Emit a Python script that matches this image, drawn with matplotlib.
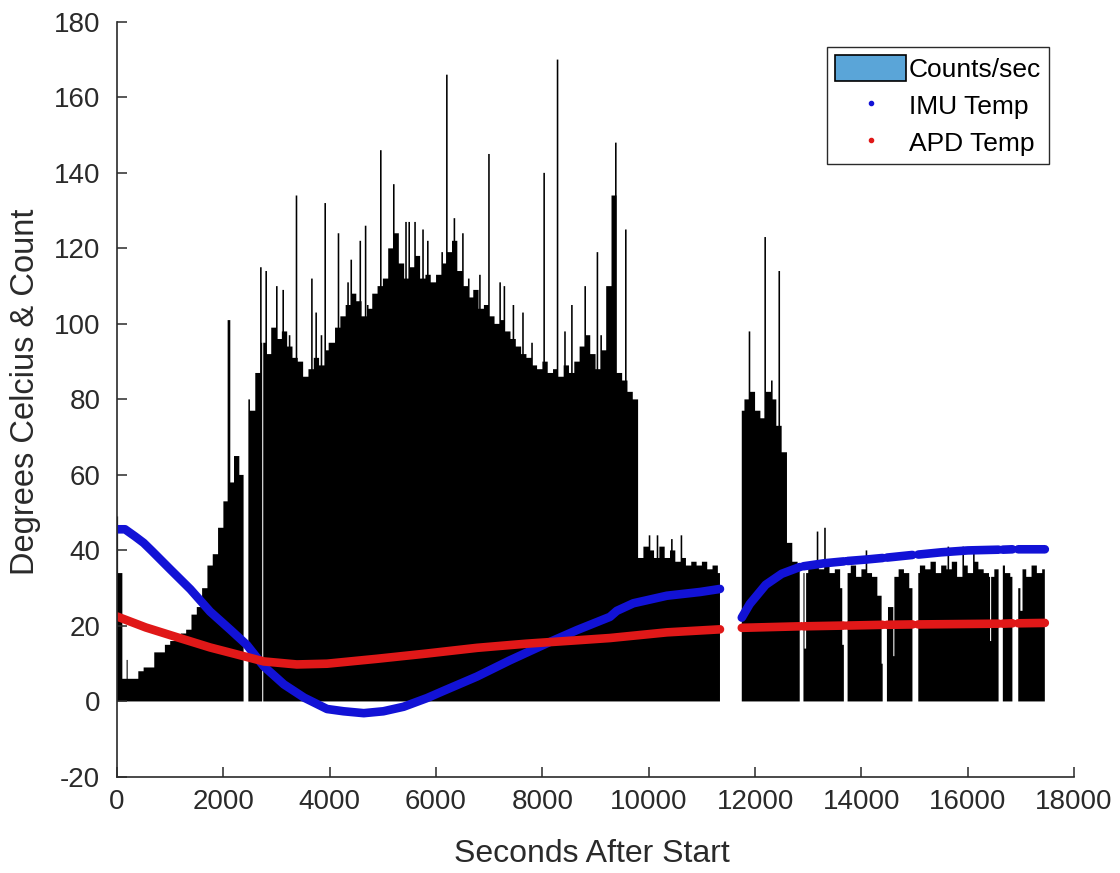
import numpy as np
import matplotlib
matplotlib.use("Agg")
import matplotlib.pyplot as plt
from matplotlib.patches import Patch
from matplotlib.lines import Line2D

plt.rcParams["axes.unicode_minus"] = False
plt.rcParams["font.family"] = ["Liberation Sans", "DejaVu Sans"]

# Counts per second in 100 s bins (bin i starts at 100*i s)
bin_width = 100
t_end = 17450
count_bins = [
    34, 6, 6, 6, 8, 9, 9, 13, 13, 15,
    16, 17, 18, 19, 23, 25, 30, 36, 39, 46,
    53, 58, 65, 60, 80, 77, 87, 95, 92, 99,
    96, 98, 94, 91, 90, 86, 88, 91, 89, 93,
    95, 99, 102, 105, 108, 106, 102, 104, 108, 110,
    112, 120, 124, 116, 112, 115, 118, 112, 113, 111,
    113, 116, 119, 122, 114, 110, 107, 109, 104, 105,
    102, 100, 101, 98, 96, 94, 92, 91, 89, 88,
    90, 87, 88, 86, 89, 87, 90, 94, 97, 92,
    88, 93, 110, 134, 87, 85, 82, 80, 38, 41,
    40, 38, 41, 38, 40, 37, 38, 36, 37, 36,
    37, 35, 36, 34, 0, 0, 0, 77, 80, 82,
    77, 75, 82, 80, 73, 66, 42, 37, 35, 34,
    36, 37, 35, 36, 34, 35, 30, 34, 36, 33,
    35, 34, 33, 28, 20, 25, 33, 35, 34, 30,
    34, 36, 35, 37, 34, 36, 35, 37, 33, 36,
    34, 37, 35, 34, 33, 35, 36, 34, 33, 30,
    35, 33, 36, 34, 35,
]

# narrow spikes / dips: (start s, counts, width s)
spikes = [
    (0, 49, 20), (180, 11, 20), (2080, 101, 50), (2690, 115, 30), (2790, 114, 30),
    (2990, 110, 30), (3110, 109, 30), (3230, 97, 30), (3360, 134, 30), (3650, 112, 30),
    (3730, 103, 30), (3830, 97, 30), (3900, 132, 30), (3980, 95, 30), (4150, 124, 30),
    (4330, 111, 30), (4390, 117, 30), (4560, 122, 30), (4660, 126, 30), (4700, 105, 30),
    (4946, 146, 30), (5190, 137, 30), (5420, 127, 30), (5480, 127, 30), (5590, 127, 30),
    (5740, 125, 30), (5830, 122, 30), (6100, 119, 30), (6188, 166, 30), (6330, 128, 30),
    (6490, 124, 30), (6600, 112, 30), (6810, 113, 30), (6980, 145, 30), (7190, 111, 30),
    (7270, 110, 30), (7440, 105, 30), (7620, 103, 30), (7790, 95, 30), (8018, 140, 30),
    (8270, 170, 30), (8410, 98, 30), (8540, 105, 30), (8790, 110, 30), (9020, 119, 30),
    (9090, 97, 30), (9366, 148, 30), (9554, 125, 30), (10000, 44, 30), (10150, 44, 30),
    (10420, 43, 30), (10600, 44, 30), (11880, 98, 30), (12175, 123, 30), (12300, 85, 30),
    (12440, 114, 30), (13160, 45, 30), (13300, 46, 30), (14080, 40, 30), (15620, 41, 30),
    (15900, 41, 30), (16100, 40, 30),
    (12930, 14, 30), (13640, 15, 30), (14380, 10, 20), (14600, 12, 20), (16420, 16, 20),
    (16990, 24, 40),
]

# count dropouts (no counts) and data gaps (no counts, no temperature)
dropouts = [(2380, 2470), (2730, 2750)]
gaps = [(11340, 11750), (12840, 12910), (13670, 13740), (14400, 14480),
        (14960, 15070), (16580, 16660), (16840, 16950)]

# temperatures (s, deg C); nan marks a data gap
imu_t = [0, 150, 340, 500, 660, 1000, 1380, 1750, 2130, 2440, 2760, 3140, 3520, 3950,
         4260, 4640, 5010, 5390, 5830, 6140, 6770, 7390, 8100, 8650, 9270, 9400, 9710,
         10025, 10340, 10970, 11340, 11500, 11750, 11900, 12200, 12500, 12840, 12870,
         12910, 13300, 13670, 13700, 13740, 14100, 14400, 14440, 14480, 14960, 15010,
         15070, 15500, 16000, 16580, 16620, 16660, 16840, 16900, 16950, 17450]
imu_v = [45.6, 45.6, 43.7, 42.0, 39.8, 35.0, 29.7, 23.8, 19.0, 15.0, 9.3, 4.5, 1.0, -2.0,
         -2.6, -3.1, -2.6, -1.4, 0.9, 2.8, 6.6, 10.9, 15.5, 18.9, 22.4, 24.0, 26.0,
         27.0, 28.0, 29.0, 29.8, np.nan, 22.2, 25.8, 30.9, 33.8, 35.6, np.nan,
         35.8, 36.6, 37.1, np.nan, 37.2, 37.6, 38.0, np.nan, 38.1, 38.8, np.nan,
         38.9, 39.5, 40.0, 40.2, np.nan, 40.2, 40.3, np.nan, 40.3, 40.3]

apd_t = [0, 540, 1130, 1750, 2380, 2760, 3380, 3950, 4890, 5830, 6770, 7700, 8650, 9270,
         10340, 11340, 11500, 11750, 12840, 12870, 12910, 13670, 13700, 13740, 14400,
         14440, 14480, 14960, 15010, 15070, 16580, 16620, 16660, 16840, 16900, 16950, 17450]
apd_v = [22.5, 19.6, 17.0, 14.3, 12.0, 10.6, 9.8, 10.0, 11.3, 12.7, 14.2, 15.3, 16.2, 16.8,
         18.3, 19.1, np.nan, 19.5, 19.9, np.nan, 19.9, 20.1, np.nan, 20.1, 20.3,
         np.nan, 20.3, 20.4, np.nan, 20.4, 20.6, np.nan, 20.6, 20.7, np.nan, 20.7, 20.8]

# step series on a 1 s grid
counts = np.repeat(np.array(count_bins, dtype=float), bin_width)[:t_end]
for t0, h, w in spikes:
    counts[t0:t0 + w] = h
for a, b in dropouts + gaps:
    counts[a:b] = 0
edges = np.arange(0, t_end + 1)

BLUE = "#1212d6"
RED = "#e01818"
TEXT = "#2a2a2a"

fig = plt.figure(figsize=(11.2, 8.73), dpi=100)
ax = fig.add_axes([0.1045, 0.110, 0.8545, 0.865])

ax.stairs(counts, edges, fill=True, color="black", baseline=0, lw=0)
ax.plot(imu_t, imu_v, color=BLUE, lw=6.2, solid_capstyle="round")
ax.plot(apd_t, apd_v, color=RED, lw=6.2, solid_capstyle="round")

ax.set_xlim(0, 18000)
ax.set_ylim(-20, 180)
ax.set_xticks(np.arange(0, 18001, 2000))
ax.set_yticks(np.arange(-20, 181, 20))
for s in ["top", "right"]:
    ax.spines[s].set_visible(False)
for s in ["left", "bottom"]:
    ax.spines[s].set_color(TEXT)
    ax.spines[s].set_linewidth(1.2)
ax.tick_params(direction="in", length=7, width=1.1, color=TEXT,
               labelcolor=TEXT, labelsize=20)
ax.tick_params(axis="x", pad=9)
ax.tick_params(axis="y", pad=12)

ax.set_xlabel("Seconds After Start", fontsize=23, color=TEXT)
ax.set_ylabel("Degrees Celcius & Count", fontsize=23.5, color=TEXT)
ax.xaxis.set_label_coords(0.496, -0.082)
ax.yaxis.set_label_coords(-0.079, 0.51)

handles = [
    Patch(facecolor="#5aa5d8", edgecolor="black", lw=1.2),
    Line2D([], [], marker=".", ls="none", color=BLUE, markersize=6),
    Line2D([], [], marker=".", ls="none", color=RED, markersize=6),
]
leg = ax.legend(handles, ["Counts/sec", "IMU Temp", "APD Temp"],
                loc="upper right", bbox_to_anchor=(0.974, 0.967),
                fontsize=19, frameon=True, fancybox=False, framealpha=1,
                edgecolor=TEXT, handlelength=2.7, handleheight=1.15,
                handletextpad=0.1, borderpad=0.3, labelspacing=0.38,
                borderaxespad=0)
leg.get_frame().set_linewidth(1.0)

fig.savefig("out.png", dpi=100)
